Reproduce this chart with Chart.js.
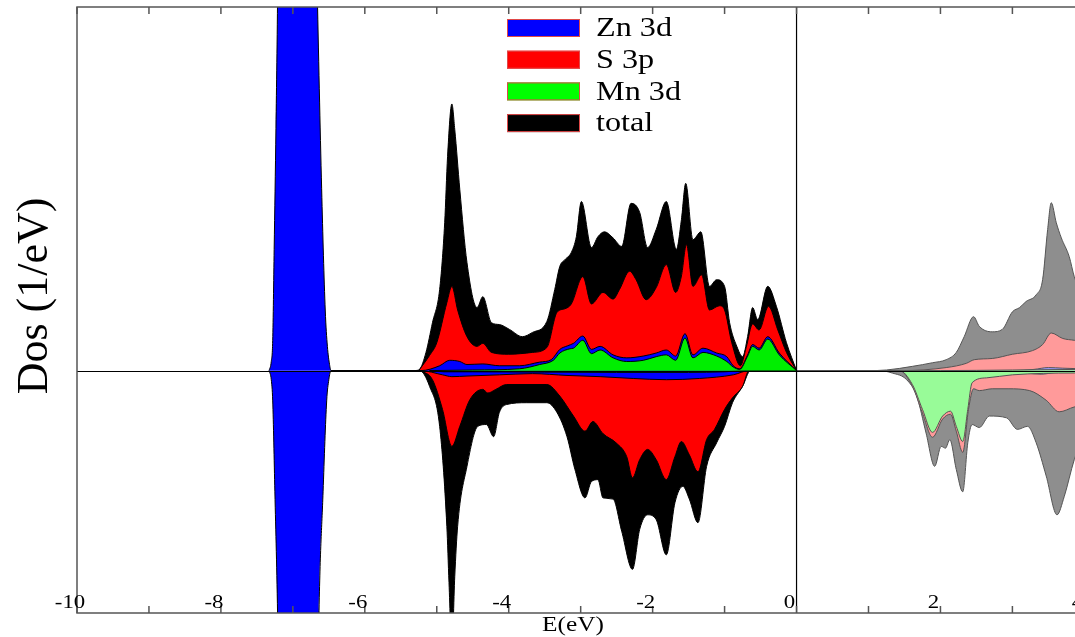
<!DOCTYPE html>
<html>
<head>
<meta charset="utf-8">
<script src="https://cdn.jsdelivr.net/npm/chart.js@4.4.1/dist/chart.umd.min.js"></script>
<style>
  html, body { margin: 0; padding: 0; background: #fff; }
  #wrap { width: 1075px; height: 637px; }
</style>
</head>
<body>
<div id="wrap"><canvas id="dos" width="1075" height="637"></canvas></div>
<script>
// energy (eV) / DOS pairs, spin up (+) and spin down (-)
// occupied part (E <= 0)
const totalUp = [[-5.3,0],[-5.24,0.02],[-5.15,0.3],[-5.06,0.79],[-4.96,1.34],[-4.89,2.44],[-4.85,3.53],[-4.79,4.4],[-4.75,3.98],[-4.68,2.99],[-4.58,1.78],[-4.44,1.04],[-4.36,1.22],[-4.24,0.79],[-4.13,0.76],[-3.99,0.68],[-3.81,0.56],[-3.67,0.63],[-3.47,0.81],[-3.36,1.34],[-3.29,1.72],[-3.22,1.83],[-3.13,1.95],[-3.06,2.21],[-2.99,2.79],[-2.85,2.03],[-2.76,2.21],[-2.67,2.29],[-2.55,2.19],[-2.43,2.05],[-2.30,2.76],[-2.18,2.61],[-2.07,2.03],[-1.95,2.33],[-1.81,2.79],[-1.67,2.0],[-1.60,2.49],[-1.54,3.09],[-1.44,2.16],[-1.33,2.29],[-1.21,1.39],[-1.11,1.5],[-1.0,1.39],[-0.93,0.79],[-0.83,0.4],[-0.75,0.23],[-0.68,0.56],[-0.61,1.04],[-0.54,0.84],[-0.40,1.39],[-0.28,1.06],[-0.14,0.46],[0,0]];
const sUp = [[-5.25,0],[-5.1,0.25],[-5.0,0.46],[-4.86,1.12],[-4.79,1.39],[-4.71,1.0],[-4.58,0.56],[-4.44,0.4],[-4.36,0.45],[-4.24,0.3],[-4.0,0.27],[-3.67,0.3],[-3.47,0.38],[-3.33,0.96],[-3.22,1.02],[-3.13,1.1],[-2.97,1.55],[-2.85,1.1],[-2.69,1.29],[-2.55,1.18],[-2.46,1.34],[-2.32,1.64],[-2.23,1.5],[-2.09,1.17],[-1.95,1.37],[-1.81,1.75],[-1.68,1.29],[-1.60,1.56],[-1.53,2.08],[-1.44,1.39],[-1.32,1.58],[-1.21,1.0],[-1.07,1.07],[-1.0,1.0],[-0.9,0.46],[-0.78,0.08],[-0.70,0.38],[-0.61,0.77],[-0.52,0.67],[-0.39,1.06],[-0.26,0.67],[-0.14,0.3],[0,0]];
const znUp = [[-7.33,0],[-7.30,0.15],[-7.28,0.5],[-7.26,2],[-7.235,4],[-7.21,6.5],[-7.18,12],[-6.95,20],[-6.75,12],[-6.665,6.5],[-6.60,3],[-6.55,1],[-6.52,0.4],[-6.49,0.1],[-6.47,0],[-5.22,0],[-4.96,0.08],[-4.82,0.17],[-4.68,0.15],[-4.58,0.10],[-4.36,0.11],[-4.13,0.08],[-3.85,0.08],[-3.57,0.14],[-3.41,0.18],[-3.29,0.35],[-3.18,0.41],[-3.10,0.45],[-2.97,0.57],[-2.85,0.35],[-2.73,0.40],[-2.55,0.26],[-2.36,0.21],[-2.13,0.24],[-1.95,0.29],[-1.81,0.34],[-1.68,0.24],[-1.55,0.61],[-1.44,0.26],[-1.30,0.37],[-1.11,0.29],[-0.97,0.23],[-0.88,0.08],[-0.79,0.03],[-0.68,0.26],[-0.61,0.43],[-0.52,0.37],[-0.40,0.56],[-0.24,0.29],[0,0]];
const mnUp = [[-5.1,0],[-4.5,0.01],[-3.85,0.03],[-3.57,0.10],[-3.38,0.17],[-3.29,0.29],[-3.15,0.36],[-3.10,0.37],[-2.97,0.50],[-2.85,0.28],[-2.73,0.34],[-2.55,0.21],[-2.36,0.15],[-2.13,0.17],[-1.95,0.23],[-1.81,0.26],[-1.68,0.17],[-1.55,0.54],[-1.44,0.21],[-1.30,0.30],[-1.11,0.24],[-0.97,0.15],[-0.88,0.06],[-0.79,0.02],[-0.68,0.24],[-0.61,0.40],[-0.52,0.34],[-0.40,0.52],[-0.24,0.26],[0,0]];

const totalDn = [[-5.3,0],[-5.24,0],[-5.1,-0.26],[-4.96,-0.92],[-4.86,-2.57],[-4.83,-3.5],[-4.79,-4.6],[-4.75,-3.4],[-4.71,-2.57],[-4.58,-1.58],[-4.43,-0.92],[-4.31,-0.89],[-4.21,-1.09],[-4.13,-0.69],[-4.03,-0.56],[-3.75,-0.53],[-3.47,-0.53],[-3.33,-0.69],[-3.19,-1.09],[-3.08,-1.63],[-2.94,-2.1],[-2.85,-1.83],[-2.76,-1.8],[-2.69,-2.1],[-2.55,-2.12],[-2.43,-2.65],[-2.28,-3.28],[-2.18,-2.62],[-2.07,-2.38],[-1.95,-2.46],[-1.81,-3.04],[-1.69,-2.18],[-1.58,-1.91],[-1.49,-2.12],[-1.37,-2.51],[-1.25,-1.58],[-1.11,-1.19],[-1.0,-0.92],[-0.89,-0.53],[-0.75,-0.26],[-0.64,0],[0,0]];
const sDn = [[-5.22,0],[-5.06,-0.15],[-4.92,-0.64],[-4.79,-1.25],[-4.68,-0.92],[-4.54,-0.48],[-4.36,-0.31],[-4.29,-0.37],[-4.18,-0.31],[-4.03,-0.23],[-3.47,-0.23],[-3.29,-0.42],[-3.10,-0.75],[-2.94,-1.0],[-2.83,-0.84],[-2.69,-1.04],[-2.50,-1.2],[-2.36,-1.42],[-2.28,-1.77],[-2.18,-1.47],[-2.07,-1.3],[-1.95,-1.47],[-1.81,-1.8],[-1.69,-1.42],[-1.60,-1.17],[-1.49,-1.39],[-1.37,-1.67],[-1.25,-1.14],[-1.14,-0.97],[-1.0,-0.64],[-0.89,-0.45],[-0.75,-0.26],[-0.66,0],[0,0]];
const znDn = [[-7.33,0],[-7.30,-0.15],[-7.28,-0.5],[-7.25,-2],[-7.21,-4.2],[-7.15,-10],[-6.9,-15],[-6.7,-10],[-6.64,-4.2],[-6.58,-2],[-6.53,-0.5],[-6.50,-0.15],[-6.47,0],[-5.22,0],[-4.92,-0.07],[-4.79,-0.10],[-4.58,-0.09],[-4.13,-0.07],[-3.67,-0.05],[-3.19,-0.08],[-2.73,-0.10],[-2.27,-0.13],[-1.81,-0.15],[-1.35,-0.13],[-0.88,-0.07],[-0.66,0],[0,0]];
const mnDn = [[-5.1,0],[-4.9,-0.02],[-4.5,-0.02],[-3.5,-0.025],[-2.5,-0.03],[-1.5,-0.03],[-1.0,-0.02],[-0.7,0],[0,0]];

// empty part (E >= 0)
const totalUpCB = [[0,0],[1.0,0],[1.25,0.01],[1.61,0.07],[1.89,0.13],[2.08,0.18],[2.22,0.3],[2.33,0.56],[2.46,0.89],[2.54,0.73],[2.72,0.64],[2.86,0.68],[3.0,0.97],[3.1,1.04],[3.19,1.14],[3.33,1.25],[3.42,1.5],[3.49,2.33],[3.54,2.77],[3.61,2.44],[3.68,2.19],[3.79,1.88],[3.86,1.55],[3.95,1.3]];
const sUpCB = [[0,0],[1.46,0],[2.08,0.05],[2.36,0.12],[2.47,0.18],[2.72,0.2],[3.0,0.27],[3.28,0.33],[3.42,0.43],[3.54,0.62],[3.70,0.53],[3.86,0.5],[3.95,0.48]];
const znUpCB = [[0,0],[3.0,0],[3.3,0.02],[3.5,0.05],[3.7,0.04],[3.95,0.03]];
const mnUpCB = [[0,0],[2.0,0],[3.0,0.01],[3.95,0.02]];
const totalDnCB = [[0,0],[1.15,0],[1.33,-0.04],[1.53,-0.15],[1.67,-0.42],[1.8,-1.03],[1.92,-1.58],[2.01,-1.25],[2.07,-1.28],[2.13,-1.14],[2.22,-1.63],[2.31,-2.0],[2.38,-1.19],[2.44,-0.89],[2.54,-0.94],[2.68,-0.75],[2.92,-0.78],[3.07,-0.97],[3.21,-0.92],[3.33,-1.19],[3.47,-1.74],[3.62,-2.38],[3.72,-2.08],[3.86,-1.47],[3.95,-1.2]];
const sDnCB = [[0,0],[1.43,0],[1.61,-0.26],[1.75,-0.70],[1.89,-1.10],[2.03,-0.80],[2.14,-0.72],[2.22,-1.0],[2.31,-1.35],[2.39,-0.64],[2.46,-0.30],[2.54,-0.33],[2.72,-0.30],[2.94,-0.30],[3.24,-0.33],[3.47,-0.49],[3.65,-0.68],[3.86,-0.60],[3.95,-0.58]];
const znDnCB = [[0,0],[3.0,0],[3.2,-0.04],[3.4,-0.06],[3.6,-0.03],[3.95,-0.02]];
const mnDnCB = [[0,0],[1.43,0],[1.61,-0.23],[1.75,-0.64],[1.89,-1.02],[2.03,-0.75],[2.14,-0.67],[2.22,-0.92],[2.31,-1.17],[2.38,-0.64],[2.44,-0.20],[2.64,-0.12],[3.0,-0.07],[3.86,-0.04],[3.95,-0.04]];

const tickValues = [-10,-9,-8,-7,-6,-5,-4,-3,-2,-1,0,1,2,3,4];
const tickLabels = ['-10','-8','-6','-4','-2','0','2','4'];
const legendLabels = ['Zn 3d', 'S 3p', 'Mn 3d', 'total'];

// colours
const col = {
    zn: '#0000ff', s: '#ff0000', mn: '#00ee00', total: '#000000',
    znLight: '#9a9aff', sLight: '#ff9a9a', mnLight: '#98fb98', totalLight: '#8e8e8e'
};
const legendColors = ['#0000ff', '#ff0000', '#00ff00', '#000000'];

const toXY = pts => pts.map(([x, y]) => ({ x: x, y: y }));

function layer(pts, fillColor, lineColor, order) {
    return {
        data: toXY(pts),
        backgroundColor: fillColor,
        borderColor: lineColor,
        borderWidth: 1,
        fill: 'origin',
        pointRadius: 0,
        cubicInterpolationMode: 'monotone',
        order: order
    };
}

// order: lower number is drawn on top
const datasets = [
    layer(mnUp, col.mn, '#000', 0), layer(znUp, col.zn, '#000', 1), layer(sUp, col.s, '#000', 2), layer(totalUp, col.total, '#000', 3),
    layer(mnDn, col.mn, '#000', 0), layer(znDn, col.zn, '#000', 1), layer(sDn, col.s, '#000', 2), layer(totalDn, col.total, '#000', 3),
    layer(mnUpCB, col.mnLight, '#555', 0), layer(znUpCB, col.znLight, '#555', 1), layer(sUpCB, col.sLight, '#555', 2), layer(totalUpCB, col.totalLight, '#555', 3),
    layer(mnDnCB, col.mnLight, '#555', 0), layer(znDnCB, col.znLight, '#555', 1), layer(sDnCB, col.sLight, '#555', 2), layer(totalDnCB, col.totalLight, '#555', 3)
];

const SERIF = '"Liberation Serif", "DejaVu Serif", serif';

function stretchText(ctx, text, x, y, sx) {
    ctx.save();
    ctx.translate(x, y);
    ctx.scale(sx, 1);
    ctx.fillText(text, 0, 0);
    ctx.restore();
}

// frame, ticks, labels and legend drawn over the fills
const framePlugin = {
    id: 'frame',
    afterDatasetsDraw(chart) {
        const ctx = chart.ctx;
        const a = chart.chartArea;
        const xs = chart.scales.x, ys = chart.scales.y;
        const y0 = ys.getPixelForValue(0);
        const x0 = xs.getPixelForValue(0);
        ctx.save();

        // zero lines
        ctx.strokeStyle = '#000';
        ctx.lineWidth = 1;
        ctx.beginPath();
        ctx.moveTo(a.left, Math.round(y0) + 0.5);
        ctx.lineTo(a.right, Math.round(y0) + 0.5);
        ctx.stroke();
        ctx.lineWidth = 1.2;
        ctx.beginPath();
        ctx.moveTo(x0, a.top);
        ctx.lineTo(x0, a.bottom);
        ctx.stroke();

        // box (no right side visible)
        ctx.strokeStyle = '#555';
        ctx.lineWidth = 1.5;
        ctx.beginPath();
        ctx.moveTo(a.right, a.top);
        ctx.lineTo(a.left, a.top);
        ctx.lineTo(a.left, a.bottom);
        ctx.lineTo(a.right, a.bottom);
        ctx.stroke();

        // inside ticks, top and bottom
        ctx.beginPath();
        tickValues.forEach(v => {
            const px = xs.getPixelForValue(v);
            ctx.moveTo(px, a.bottom);
            ctx.lineTo(px, a.bottom - 7);
            ctx.moveTo(px, a.top);
            ctx.lineTo(px, a.top + 7);
        });
        ctx.stroke();

        // tick labels, inside the box, left of each tick
        ctx.fillStyle = '#000';
        ctx.font = '19px ' + SERIF;
        ctx.textAlign = 'center';
        ctx.textBaseline = 'middle';
        tickLabels.forEach(t => {
            const px = xs.getPixelForValue(Number(t));
            stretchText(ctx, t, px - 7, a.bottom - 10, 1.2);
        });

        // axis titles
        ctx.font = '22px ' + SERIF;
        stretchText(ctx, 'E(eV)', 573, 625, 1.15);
        ctx.save();
        ctx.translate(35, 296);
        ctx.rotate(-Math.PI / 2);
        ctx.font = '44px ' + SERIF;
        ctx.fillText('Dos (1/eV)', 0, 0);
        ctx.restore();

        // legend
        ctx.textAlign = 'left';
        ctx.font = '28px ' + SERIF;
        legendLabels.forEach((lab, i) => {
            const cy = 28 + i * 31.7;
            ctx.fillStyle = legendColors[i];
            ctx.fillRect(507, cy - 9, 73, 18);
            ctx.strokeStyle = '#e04848';
            ctx.lineWidth = 1;
            ctx.strokeRect(507.5, cy - 8.5, 72, 17);
            ctx.fillStyle = '#000';
            stretchText(ctx, lab, 596, cy + 1, 1.15);
        });
        ctx.restore();
    }
};

new Chart(document.getElementById('dos').getContext('2d'), {
    type: 'line',
    data: { datasets: datasets },
    options: {
        responsive: false,
        animation: false,
        devicePixelRatio: 1,
        layout: { padding: { left: 77, top: 7, right: 0, bottom: 24 } },
        scales: {
            x: { type: 'linear', min: -10, max: 3.87, display: false },
            y: { type: 'linear', min: -4, max: 6, display: false }
        },
        plugins: {
            legend: { display: false },
            tooltip: { enabled: false }
        }
    },
    plugins: [framePlugin]
});
</script>
</body>
</html>
